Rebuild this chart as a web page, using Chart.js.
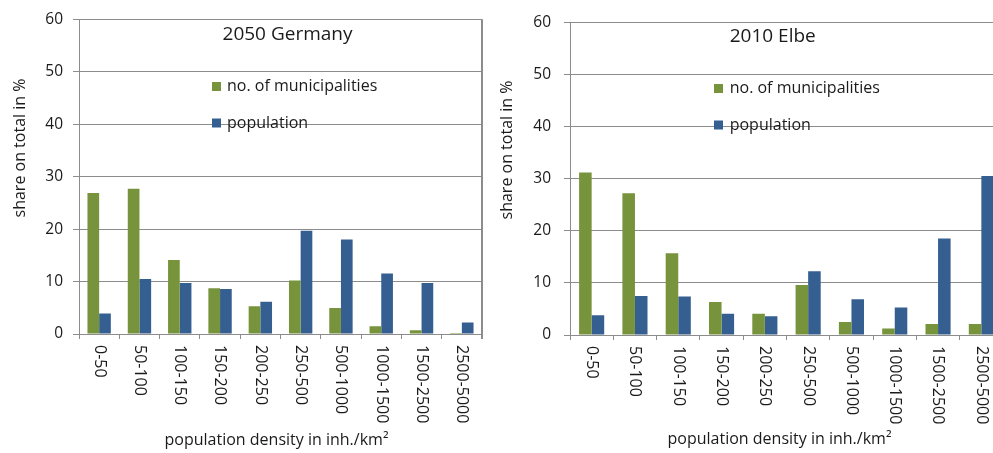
<!DOCTYPE html>
<html>
<head>
<meta charset="utf-8">
<script src="https://cdn.jsdelivr.net/npm/chart.js@4.4.0/dist/chart.umd.min.js"></script>
<style>
  html, body { margin: 0; padding: 0; background: #fff; overflow: hidden; width: 993px; height: 453px; }
  .panel { position: absolute; top: 0; height: 453px; }
  #leftPanel { left: 0; width: 493px; }
  #rightPanel { left: 490px; width: 530px; }
</style>
</head>
<body>
<div class="panel" id="leftPanel"><canvas id="germany"></canvas></div>
<div class="panel" id="rightPanel"><canvas id="elbe"></canvas></div>
<script>
// Density classes (inhabitants per km²)
const densityClasses = ['0-50', '50-100', '100-150', '150-200', '200-250', '250-500', '500-1000', '1000-1500', '1500-2500', '2500-5000'];

// Shares on total in %
const germany2050Municipalities = [26.9, 27.7, 14.1, 8.7, 5.3, 10.2, 4.95, 1.5, 0.7, 0.2];
const germany2050Population     = [3.9, 10.5, 9.7, 8.6, 6.15, 19.7, 18.0, 11.55, 9.7, 2.2];
const elbe2010Municipalities    = [31.2, 27.2, 15.7, 6.35, 4.1, 9.6, 2.5, 1.27, 2.1, 2.1];
const elbe2010Population        = [3.8, 7.5, 7.4, 4.1, 3.6, 12.25, 6.85, 5.3, 18.5, 30.5];

const seriesNames = ['no. of municipalities', 'population'];
const yMin = 0, yMax = 60, yStep = 10;

const GREEN = '#77933C';
const BLUE = '#365F91';
const GRID = '#8c8c8c';
const TEXT = '#1a1a1a';
const FONT = '"Open Sans", Lato, sans-serif';

// Draws the in-plot title and legend, axis titles, and the downward-reading category labels
const decorations = {
  id: 'decorations',
  afterDraw(chart, args, o) {
    const ctx = chart.ctx;
    const area = chart.chartArea;
    const xScale = chart.scales.x;
    ctx.save();
    ctx.fillStyle = TEXT;

    // chart title inside the plot
    ctx.font = `${o.titleSize}px ${FONT}`;
    ctx.textAlign = 'center';
    ctx.textBaseline = 'middle';
    ctx.fillText(o.title, o.titleX, o.titleY);

    // legend inside the plot
    ctx.font = `${o.legendSize}px ${FONT}`;
    ctx.textAlign = 'left';
    chart.data.datasets.forEach((ds, i) => {
      const y = o.legendY[i];
      ctx.fillStyle = ds.backgroundColor;
      ctx.fillRect(o.legendX, y - 4.5, 9, 9);
      ctx.fillStyle = TEXT;
      ctx.fillText(ds.label, o.legendTextX, y);
    });

    // category labels, rotated to read top to bottom
    ctx.font = `${o.tickSize}px ${FONT}`;
    ctx.textAlign = 'left';
    ctx.textBaseline = 'middle';
    chart.data.labels.forEach((lab, i) => {
      const x = xScale.getPixelForTick(i);
      ctx.save();
      ctx.translate(x, area.bottom + o.tickGap);
      ctx.rotate(Math.PI / 2);
      ctx.fillText(lab, 0, 0);
      ctx.restore();
    });

    // x axis title
    ctx.font = `${o.axisTitleSize}px ${FONT}`;
    ctx.textAlign = 'center';
    ctx.fillText('population density in inh./km²', o.xTitleX, o.xTitleY);

    // y axis title
    ctx.save();
    ctx.translate(o.yTitleX, o.yTitleY);
    ctx.rotate(-Math.PI / 2);
    ctx.fillText('share on total in %', 0, 0);
    ctx.restore();

    ctx.restore();
  }
};

function makeChart(canvasId, municipalities, population, layout) {
  return new Chart(document.getElementById(canvasId), {
    type: 'bar',
    data: {
      labels: densityClasses,
      datasets: [
        { label: seriesNames[0], data: municipalities, backgroundColor: GREEN, borderWidth: 0 },
        { label: seriesNames[1], data: population, backgroundColor: BLUE, borderWidth: 0 }
      ]
    },
    options: {
      responsive: true,
      maintainAspectRatio: false,
      animation: false,
      layout: { padding: { left: 0, top: layout.top, right: layout.right, bottom: 0 } },
      datasets: { bar: { categoryPercentage: 0.58, barPercentage: 1.0 } },
      scales: {
        x: {
          offset: true,
          afterFit: s => { s.height = layout.xHeight; },
          ticks: { display: false },
          grid: {
            offset: true,
            drawOnChartArea: true,
            color: c => (c.type === 'scale' ? GRID : 'transparent'),
            tickColor: GRID,
            tickLength: 5,
            lineWidth: c => (c.type === 'scale' ? 2 : 1)
          },
          border: { display: true, color: GRID, width: 1 }
        },
        y: {
          min: yMin,
          max: yMax,
          afterFit: s => { s.width = layout.yWidth; },
          ticks: {
            stepSize: yStep,
            padding: layout.yTickPad,
            color: TEXT,
            font: { family: FONT, size: 15.5 }
          },
          grid: { color: GRID, tickColor: GRID, tickLength: 6, lineWidth: 1 },
          border: { display: true, color: GRID, width: 1 }
        }
      },
      plugins: {
        legend: { display: false },
        tooltip: { enabled: false },
        decorations: layout.text
      }
    },
    plugins: [decorations]
  });
}

makeChart('germany', germany2050Municipalities, germany2050Population, {
  top: 19, right: 11, xHeight: 119, yWidth: 79, yTickPad: 10,
  text: {
    title: '2050 Germany', titleSize: 19, titleX: 287.5, titleY: 35,
    legendSize: 16, legendX: 212, legendTextX: 227, legendY: [86.5, 123],
    tickSize: 16, tickGap: 11,
    axisTitleSize: 16, xTitleX: 276.5, xTitleY: 440, yTitleX: 20, yTitleY: 148
  }
});

makeChart('elbe', elbe2010Municipalities, elbe2010Population, {
  top: 20, right: 17, xHeight: 118, yWidth: 80, yTickPad: 13,
  text: {
    title: '2010 Elbe', titleSize: 19, titleX: 282.7, titleY: 37,
    legendSize: 16, legendX: 224, legendTextX: 239.7, legendY: [88.5, 125],
    tickSize: 16, tickGap: 11,
    axisTitleSize: 16, xTitleX: 289.5, xTitleY: 439, yTitleX: 17, yTitleY: 150
  }
});
</script>
</body>
</html>
